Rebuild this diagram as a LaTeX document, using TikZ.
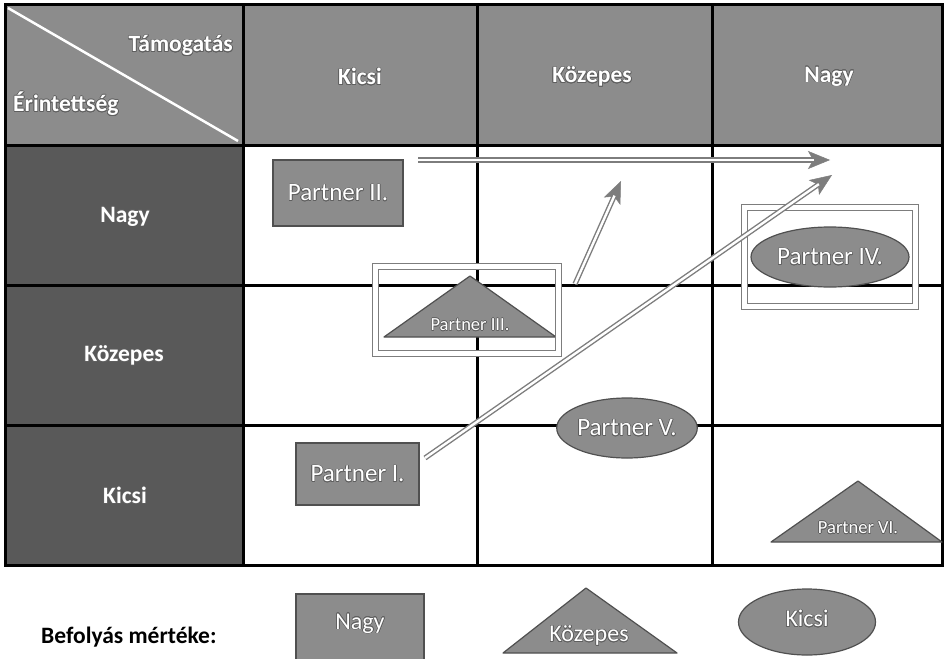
\documentclass[tikz,border=0pt]{standalone}
\usepackage{fontspec}
\setmainfont{Carlito}
\usepackage{contour}
\contourlength{0.6pt}
\contournumber{16}
\usetikzlibrary{shapes.geometric,arrows.meta}

\definecolor{hdrgray}{RGB}{140,140,140}
\definecolor{sidegray}{RGB}{89,89,89}
\definecolor{shapefill}{RGB}{140,140,140}
\definecolor{shapeedge}{RGB}{80,80,80}
\definecolor{arrowgray}{RGB}{125,125,125}
\definecolor{glow}{RGB}{95,95,95}

\newcommand{\glowtext}[1]{\contour{glow}{#1}}

\tikzset{
  gridline/.style={line width=3pt, black},
  headtext/.style={text=white, font=\bfseries\fontsize{23.5}{26}\selectfont},
  partnerbox/.style={rectangle, fill=shapefill, draw=shapeedge, line width=1.2pt,
    text=white, font=\fontsize{25}{28}\selectfont, inner sep=0pt},
  partnerell/.style={ellipse, fill=shapefill, draw=shapeedge, line width=1.2pt,
    text=white, font=\fontsize{25}{28}\selectfont, inner sep=0pt},
  tri/.style={fill=shapefill, draw=shapeedge, line width=1.2pt, line join=round},
  tritext/.style={text=white, font=\fontsize{18.5}{21}\selectfont, inner sep=0pt},
  legtext/.style={text=white, font=\fontsize{24}{27}\selectfont, inner sep=0pt},
  framebox/.style={draw=arrowgray, double=white, line width=1.3pt, double distance=4.2pt},
  shaft/.style={draw=arrowgray, double=white, line width=1.4pt, double distance=2.4pt},
  tip/.style={draw=arrowgray, line width=0.5pt,
    -{Stealth[length=22pt, width=18pt, inset=5pt, fill=arrowgray]}},
}

\begin{document}
\begin{tikzpicture}[x=1pt, y=-1pt]
\useasboundingbox (0,0) rectangle (944,658);
\fill[white] (0,0) rectangle (944,658);

% header row and side column backgrounds
\fill[hdrgray] (5,5) rectangle (942,145);
\fill[sidegray] (5,145) rectangle (243,565);

% table grid
\draw[gridline] (5,5) rectangle (942,565);
\foreach \gx in {243,477,712} \draw[gridline] (\gx,5) -- (\gx,565);
\foreach \gy in {145,285,425} \draw[gridline] (5,\gy) -- (942,\gy);

% corner cell with diagonal split
\draw[white, line width=2.5pt] (8,8) -- (238,141);
\node[headtext, anchor=east, inner sep=0pt] (tamogatas) at (233,46) {\glowtext{Támogatás}};
\node[headtext, anchor=west, inner sep=0pt] (erintettseg) at (13,104) {\glowtext{Érintettség}};

% column headers
\node[headtext] (colKicsi) at (360,77) {\glowtext{Kicsi}};
\node[headtext] (colKozepes) at (592,77) {\glowtext{Közepes}};
\node[headtext] (colNagy) at (829,77) {\glowtext{Nagy}};

% row headers
\node[headtext] (rowNagy) at (125,217) {\glowtext{Nagy}};
\node[headtext] (rowKozepes) at (124,356) {\glowtext{Közepes}};
\node[headtext] (rowKicsi) at (125,496) {\glowtext{Kicsi}};

% partners
\node[partnerbox, minimum width=130pt, minimum height=66pt] (p2) at (338,193) {\glowtext{Partner II.}};
\node[partnerbox, minimum width=123pt, minimum height=62pt] (p1) at (357.5,474) {\glowtext{Partner I.}};

\draw[tri] (384,337) -- (470,276) -- (556,337) -- cycle;
\node[tritext] (p3) at (470,325) {\glowtext{Partner III.}};

\node[partnerell, minimum width=158pt, minimum height=60pt] (p4) at (830,257) {\glowtext{Partner IV.}};
\node[partnerell, minimum width=139pt, minimum height=60pt] (p5) at (627,428) {\glowtext{Partner V.}};

\draw[tri] (771,542) -- (858,481) -- (942,542) -- cycle;
\node[tritext] (p6) at (858,528) {\glowtext{Partner VI.}};

% highlight frames
\draw[framebox] (375.5,266.5) rectangle (558.5,353.5);
\draw[framebox] (744.5,207.5) rectangle (915.5,306.5);

% movement arrows
\coordinate (a1s) at (418,160);
\coordinate (a1e) at (830,160);
\coordinate (a2s) at (575,284);
\coordinate (a2e) at (621,181);
\coordinate (a3s) at (425,458);
\coordinate (a3e) at (832,175);
\foreach \s/\e in {a1s/a1e, a2s/a2e, a3s/a3e} {
  \draw[tip] (\s) -- (\e);
  \draw[shaft, shorten >=16pt] (\s) -- (\e);
}

% legend
\node[anchor=west, inner sep=0pt, font=\bfseries\fontsize{23.5}{26}\selectfont] (legtitle) at (41,637) {Befolyás mértéke:};
\node[partnerbox, minimum width=128pt, minimum height=70pt] (legNagy) at (360,629) {};
\node[legtext] (legNagyText) at (360,624) {\glowtext{Nagy}};
\draw[tri] (503,653) -- (586,588) -- (677,653) -- cycle;
\node[legtext] (legKozepes) at (589,636) {\glowtext{Közepes}};
\node[partnerell, minimum width=137pt, minimum height=66pt] (legKicsi) at (807,622) {};
\node[legtext] (legKicsiText) at (807,619) {\glowtext{Kicsi}};
\end{tikzpicture}
\end{document}
